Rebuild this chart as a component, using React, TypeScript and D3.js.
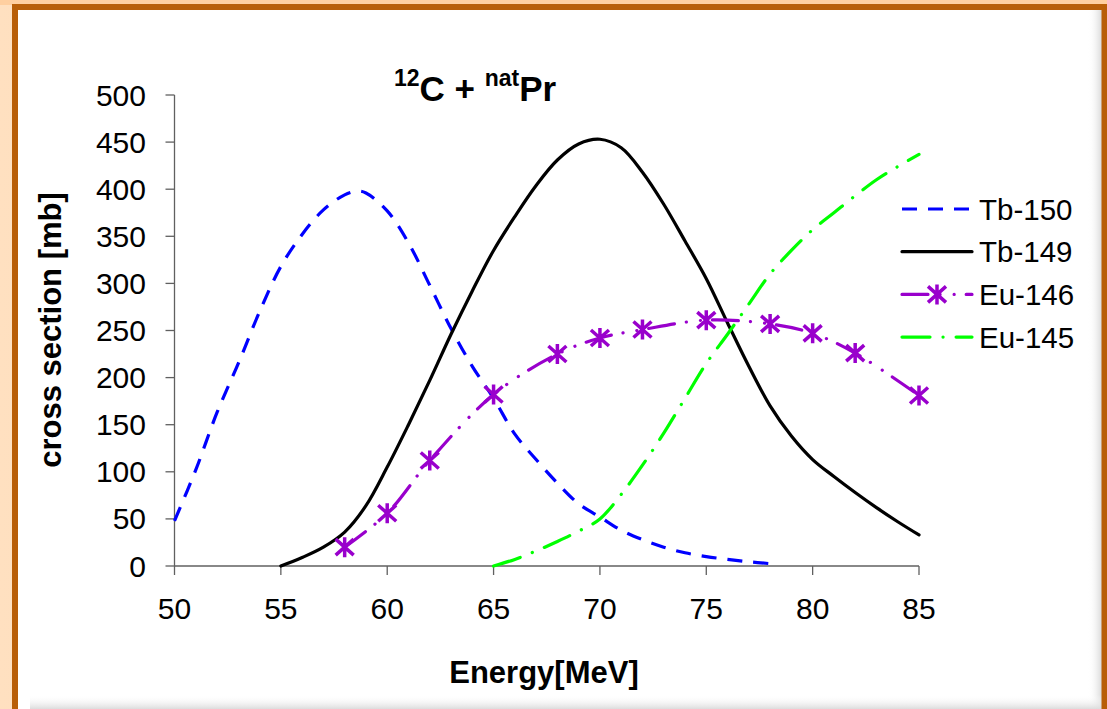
import React from 'react';
import * as d3 from 'd3';

// ---- data ----
const xTicks = [50, 55, 60, 65, 70, 75, 80, 85];
const yTicks = [0, 50, 100, 150, 200, 250, 300, 350, 400, 450, 500];

const tb150Energy = [50, 51, 52, 53, 54, 55, 56, 57, 58, 58.6, 59, 60, 61, 62, 63, 64, 65, 66, 67, 68, 69, 70, 71, 72, 73, 74, 75, 76, 77, 78];
const tb150Values = [48, 102, 163, 215, 270, 318, 352, 378, 394, 398, 396, 377, 343, 298, 252, 212, 178, 140, 113, 88, 66, 52, 38, 28, 20, 14, 10, 7, 4.5, 2.5];

const tb149Energy = [55, 56, 57, 58, 59, 60, 61, 62, 63, 64, 65, 66, 67, 68, 69, 70, 71, 72, 73, 74, 75, 76, 77, 78, 79, 80, 81, 82, 83, 84, 85];
const tb149Values = [0, 9, 20, 36, 64, 105, 150, 197, 246, 292, 335, 371, 404, 431, 448, 453, 444, 418, 384, 345, 305, 258, 212, 170, 138, 113, 95, 78, 62, 47, 33];

const eu146Energy = [58, 60, 62, 65, 68, 70, 72, 75, 78, 80, 82, 85];
const eu146Values = [20, 56, 112, 182, 225, 242, 251, 261, 257, 247, 226, 181];

const eu145Energy = [65, 66, 67, 68, 69, 70, 71, 72, 73, 74, 75, 76, 77, 78, 79, 80, 81, 82, 83, 84, 85];
const eu145Values = [0, 7, 16, 26, 37, 50, 76, 107, 141, 178, 215, 246, 278, 310, 335, 357, 375, 393, 410, 424, 437];

const seriesNames = ['Tb-150', 'Tb-149', 'Eu-146', 'Eu-145'];

const FONT = '"Liberation Sans", Arial, sans-serif';

function zip(a: number[], b: number[]): [number, number][] {
  return a.map((v, i) => [v, b[i]] as [number, number]);
}

const starPath = 'M0,-10L0,10M-9,-8L9,8M-9,8L9,-8';

export default function App() {
  const x = d3.scaleLinear().domain([50, 85]).range([174.5, 919]);
  const y = d3.scaleLinear().domain([0, 500]).range([566, 95]);
  const line = d3
    .line<[number, number]>()
    .x((d) => x(d[0]))
    .y((d) => y(d[1]))
    .curve(d3.curveCatmullRom.alpha(0.5));

  const series = [
    { name: seriesNames[0], data: zip(tb150Energy, tb150Values), color: '#0000FF', dash: '15 11', cap: 'butt', marker: false },
    { name: seriesNames[1], data: zip(tb149Energy, tb149Values), color: '#000000', dash: 'none', cap: 'round', marker: false },
    { name: seriesNames[2], data: zip(eu146Energy, eu146Values), color: '#9900CC', dash: '26 12 0.1 14 0.1 12', cap: 'round', marker: true },
    { name: seriesNames[3], data: zip(eu145Energy, eu145Values), color: '#00FF00', dash: '28 13 0.1 13', cap: 'round', marker: false },
  ];

  const legendX = 902;
  const legendY0 = 209;
  const legendStep = 42.7;

  return (
    <svg
      width={1107}
      height={709}
      style={{ position: 'absolute', left: 0, top: 0, display: 'block' }}
      fontFamily={FONT}
    >
      <defs>
        <linearGradient id="peachL" x1="0" x2="1" y1="0" y2="0">
          <stop offset="0" stopColor="#FFE0C0" />
          <stop offset="1" stopColor="#FCC690" />
        </linearGradient>
        <linearGradient id="shadowR" x1="0" x2="1" y1="0" y2="0">
          <stop offset="0" stopColor="#FFFFFF" stopOpacity="0" />
          <stop offset="1" stopColor="#D8D8D8" stopOpacity="1" />
        </linearGradient>
        <linearGradient id="shadowB" x1="0" x2="0" y1="0" y2="1">
          <stop offset="0" stopColor="#FFFFFF" stopOpacity="0" />
          <stop offset="1" stopColor="#DCDCDC" stopOpacity="1" />
        </linearGradient>
      </defs>
      {/* frame */}
      <rect x={0} y={0} width={1107} height={709} fill="url(#peachL)" />
      <rect x={0} y={0} width={1107} height={5} fill="#FFCFA0" />
      <rect x={18} y={10} width={1084} height={699} fill="#FFFFFF" />
      <rect x={1088} y={10} width={14} height={699} fill="url(#shadowR)" />
      <rect x={30} y={695} width={1072} height={14} fill="url(#shadowB)" />
      <path d="M15,709V7H1104.5V709" fill="none" stroke="#B85E08" strokeWidth={6} />

      {/* title */}
      <text x={394} y={101} fontWeight="bold" fontSize={35} fill="#000">
        <tspan fontSize={23} dy={-15}>12</tspan>
        <tspan dy={15}>C + </tspan>
        <tspan fontSize={23} dy={-15}>nat</tspan>
        <tspan dy={15}>Pr</tspan>
      </text>

      {/* axes */}
      <g stroke="#606060" strokeWidth={1.3} fill="none">
        <line x1={x(50)} x2={x(50)} y1={y(500)} y2={y(0)} />
        <line x1={x(50)} x2={x(85)} y1={y(0)} y2={y(0)} />
        {yTicks.map((t) => (
          <line key={'yt' + t} x1={x(50) - 9} x2={x(50)} y1={y(t)} y2={y(t)} />
        ))}
        {xTicks.map((t) => (
          <line key={'xt' + t} x1={x(t)} x2={x(t)} y1={y(0)} y2={y(0) + 9} />
        ))}
      </g>
      <g fontSize={30} fill="#000">
        {yTicks.map((t) => (
          <text key={'yl' + t} x={146} y={y(t) + 10.5} textAnchor="end">
            {t}
          </text>
        ))}
        {xTicks.map((t) => (
          <text key={'xl' + t} x={x(t)} y={619} textAnchor="middle">
            {t}
          </text>
        ))}
      </g>
      <text x={544} y={683} textAnchor="middle" fontWeight="bold" fontSize={31}>
        Energy[MeV]
      </text>
      <text
        transform="translate(61,330) rotate(-90)"
        textAnchor="middle"
        fontWeight="bold"
        fontSize={31}
      >
        cross section [mb]
      </text>

      {/* series */}
      {series.map((s) => (
        <path
          key={s.name}
          d={line(s.data) || ''}
          fill="none"
          stroke={s.color}
          strokeWidth={3.2}
          strokeDasharray={s.dash}
          strokeLinecap={s.cap as any}
          strokeLinejoin="round"
        />
      ))}
      {series
        .filter((s) => s.marker)
        .map((s) =>
          s.data.map((d, i) => (
            <path
              key={s.name + i}
              d={starPath}
              transform={`translate(${x(d[0])},${y(d[1])})`}
              stroke={s.color}
              strokeWidth={3.5}
              fill="none"
            />
          ))
        )}

      {/* legend */}
      {series.map((s, i) => {
        const ly = legendY0 + i * legendStep;
        return (
          <g key={'lg' + s.name}>
            <line
              x1={legendX}
              x2={legendX + 70}
              y1={ly}
              y2={ly}
              stroke={s.color}
              strokeWidth={3.2}
              strokeDasharray={s.dash}
              strokeLinecap={s.cap as any}
            />
            {s.marker && (
              <path d={starPath} transform={`translate(${legendX + 35},${ly})`} stroke={s.color} strokeWidth={3.5} fill="none" />
            )}
            <text x={979} y={ly + 10.5} fontSize={29.5} fill="#000">
              {s.name}
            </text>
          </g>
        );
      })}
    </svg>
  );
}
